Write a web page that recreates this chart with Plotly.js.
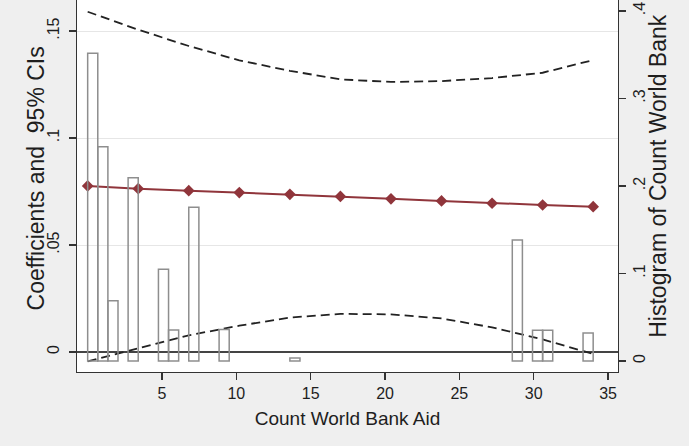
<!DOCTYPE html>
<html>
<head>
<meta charset="utf-8">
<script src="https://cdn.plot.ly/plotly-3.0.1.min.js"></script>
<style>html,body{margin:0;padding:0;background:#efefef;}#chart{width:689px;height:446px;}</style>
</head>
<body>
<div id="chart"></div>
<script>
// Evaluation points of Count World Bank Aid
const aidPoints = [0, 3.4, 6.8, 10.2, 13.6, 17, 20.4, 23.8, 27.2, 30.6, 34];
// Marginal coefficient and 95% confidence bounds
const coefficients = [0.0776, 0.0763, 0.0754, 0.0745, 0.0737, 0.0727, 0.0716, 0.0706, 0.0695, 0.0687, 0.0679];
const upperCI = [0.1590, 0.1506, 0.1430, 0.1363, 0.1314, 0.1274, 0.1262, 0.1266, 0.1280, 0.1305, 0.1364];
const lowerCI = [-0.0044, 0.0016, 0.0078, 0.0123, 0.0161, 0.0178, 0.0176, 0.0157, 0.0115, 0.0059, -0.0009];
// Histogram (density) of Count World Bank Aid, bin width 0.68
const binWidth = 0.68;
const binStarts = [0, 0.68, 1.36, 2.72, 4.76, 5.44, 6.8, 8.84, 13.6, 28.56, 29.92, 30.6, 33.32];
const densities = [0.3516, 0.2449, 0.0689, 0.2095, 0.1048, 0.0354, 0.1757, 0.0360, 0.0035, 0.1383, 0.0351, 0.0351, 0.0320];
// Tick labels
const xTicks = [5, 10, 15, 20, 25, 30, 35];
const yTicks = [0, 0.05, 0.1, 0.15];
const yTickText = ['0', '.05', '.1', '.15'];
const y2Ticks = [0, 0.1, 0.2, 0.3, 0.4];
const y2TickText = ['0', '.1', '.2', '.3', '.4'];

const FONT = 'Arial, "Liberation Sans", Helvetica, sans-serif';
const TXT = '#1e1e1e';
const AX = '#333';

const traces = [
  {
    type: 'bar', x: binStarts, y: densities, width: binWidth, offset: 0,
    yaxis: 'y2',
    marker: {color: 'rgba(0,0,0,0)', line: {color: '#8e8e8e', width: 1.5}},
    hoverinfo: 'skip', showlegend: false
  },
  {
    type: 'scatter', mode: 'lines', x: aidPoints, y: upperCI,
    line: {color: '#222', width: 1.8, dash: '9px,5px'}, showlegend: false
  },
  {
    type: 'scatter', mode: 'lines', x: aidPoints, y: lowerCI,
    line: {color: '#222', width: 1.8, dash: '9px,5px'}, showlegend: false
  },
  {
    type: 'scatter', mode: 'lines+markers', x: aidPoints, y: coefficients,
    line: {color: '#90353b', width: 2},
    marker: {symbol: 'diamond', size: 9, color: '#90353b'}, showlegend: false
  }
];

const layout = {
  width: 689, height: 446,
  margin: {l: 77, r: 71, t: 0, b: 74, pad: 0},
  paper_bgcolor: '#efefef', plot_bgcolor: '#ffffff',
  font: {family: FONT, color: TXT, size: 16},
  showlegend: false,
  bargap: 0,
  xaxis: {
    range: [-0.718, 35.67], tickvals: xTicks, ticks: 'outside', ticklen: 7, tickwidth: 1.2,
    tickcolor: AX, showline: true, linecolor: AX, linewidth: 1.2, showgrid: false, zeroline: false,
    tickfont: {size: 16, color: TXT, family: FONT},
    title: {text: 'Count World Bank Aid', font: {size: 19, color: TXT, family: FONT}, standoff: 10}
  },
  yaxis: {
    range: [-0.00935, 0.16449], tickvals: yTicks, ticktext: yTickText, tickangle: -90,
    ticks: 'outside', ticklen: 7, tickwidth: 1.2, tickcolor: AX, ticklabelstandoff: 3,
    showline: true, linecolor: AX, linewidth: 1.2,
    showgrid: true, gridcolor: '#e6e6e6', gridwidth: 1,
    zeroline: true, zerolinecolor: '#444', zerolinewidth: 1.6,
    tickfont: {size: 16, color: TXT, family: FONT}
  },
  yaxis2: {
    overlaying: 'y', side: 'right',
    range: [-0.01257, 0.41257], tickvals: y2Ticks, ticktext: y2TickText, tickangle: -90,
    ticks: 'outside', ticklen: 7, tickwidth: 1.2, tickcolor: AX,
    showline: true, linecolor: AX, linewidth: 1.2, showgrid: false, zeroline: false,
    tickfont: {size: 16, color: TXT, family: FONT}
  },
  annotations: [
    {
      text: 'Coefficients and\u00a0 95% CIs', textangle: -90, showarrow: false,
      xref: 'paper', yref: 'paper', x: -0.0758, y: 0.5202, xanchor: 'center', yanchor: 'middle',
      font: {size: 23, color: TXT, family: FONT}
    },
    {
      text: 'Histogram of Count World Bank', textangle: -90, showarrow: false,
      xref: 'paper', yref: 'paper', x: 1.0735, y: 0.5269, xanchor: 'center', yanchor: 'middle',
      font: {size: 23, color: TXT, family: FONT}
    }
  ]
};

Plotly.newPlot('chart', traces, layout, {staticPlot: true, displayModeBar: false});
</script>
</body>
</html>
